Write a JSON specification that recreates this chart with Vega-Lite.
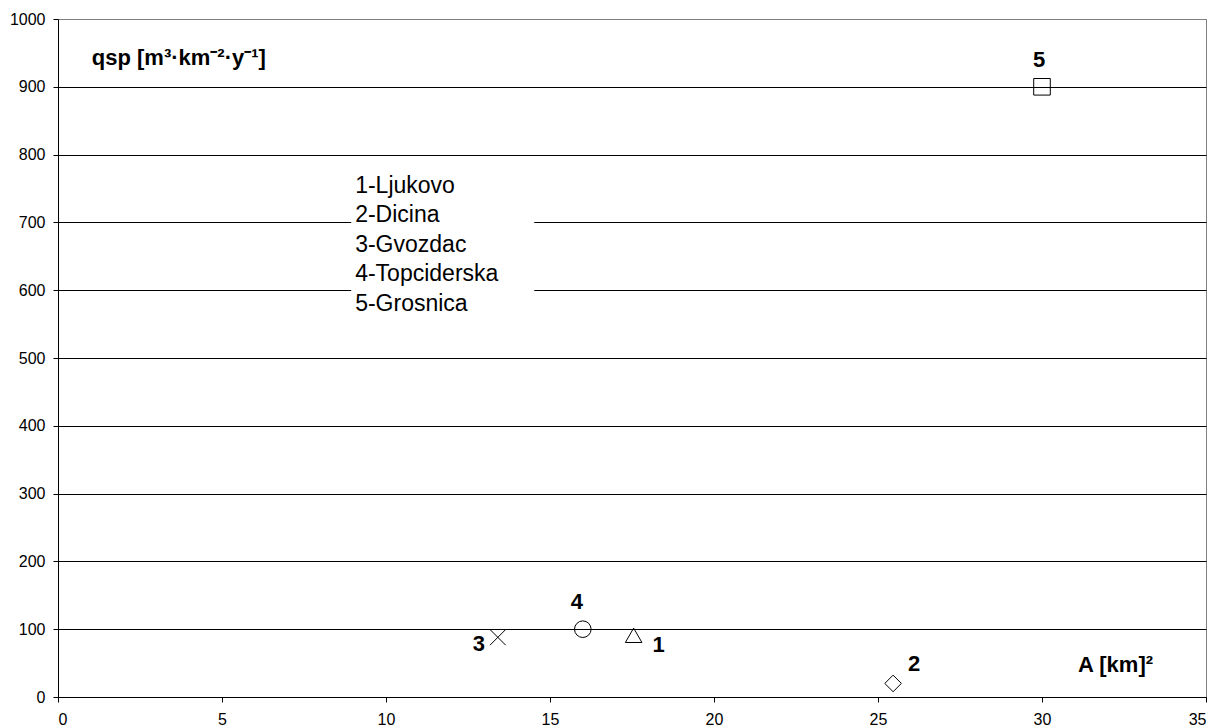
{
  "$schema": "https://vega.github.io/schema/vega-lite/v6.json",
  "width": 1148,
  "height": 678,
  "autosize": {"type": "none"},
  "padding": {"left": 58, "top": 19, "right": 9, "bottom": 31},
  "background": "white",
  "config": {
    "font": "Liberation Sans",
    "view": {"stroke": "#808080", "strokeWidth": 1},
    "axis": {
      "labelFontSize": 16, "labelColor": "black", "labelFont": "Liberation Sans",
      "domainColor": "black", "tickColor": "black", "title": null
    }
  },
  "datasets": {
    "pts": [
      {"id": "1", "station": "Ljukovo", "A": 17.55, "qsp": 91},
      {"id": "2", "station": "Dicina", "A": 25.46, "qsp": 20},
      {"id": "3", "station": "Gvozdac", "A": 13.41, "qsp": 88},
      {"id": "4", "station": "Topciderska", "A": 16.0, "qsp": 100},
      {"id": "5", "station": "Grosnica", "A": 30.0, "qsp": 900}
    ],
    "ann": [
      {"label": "qsp [m³·km⁻²·y⁻¹]", "kind": "title"}
    ]
  },
  "layer": [
    {
      "data": {"name": "pts"},
      "mark": {"type": "point", "filled": false, "stroke": "black", "strokeWidth": 1, "size": 275, "opacity": 1},
      "encoding": {
        "x": {
          "field": "A", "type": "quantitative",
          "scale": {"domain": [0, 35], "nice": false, "zero": true},
          "axis": {
            "title": null, "values": [0, 5, 10, 15, 20, 25, 30, 35],
            "grid": false, "tickSize": 5, "labelPadding": 9, "format": "d"
          }
        },
        "y": {
          "field": "qsp", "type": "quantitative",
          "scale": {"domain": [0, 1000], "nice": false},
          "axis": {
            "title": null, "values": [0, 100, 200, 300, 400, 500, 600, 700, 800, 900, 1000],
            "grid": true, "format": "d",
            "gridColor": {"condition": {"test": "datum.value == 1000", "value": "#808080"}, "value": "black"},
            "gridOpacity": 1, "gridWidth": 1, "tickSize": 5, "labelPadding": 8
          }
        },
        "shape": {
          "field": "station", "type": "nominal",
          "scale": {
            "domain": ["Ljukovo", "Dicina", "Gvozdac", "Topciderska", "Grosnica"],
            "range": ["triangle-up", "diamond", "M-0.95,-0.95L0.95,0.95M0.95,-0.95L-0.95,0.95", "circle", "square"]
          },
          "legend": null
        }
      }
    },
    {
      "data": {"name": "ann"},
      "mark": {"type": "rect", "fill": "white", "strokeWidth": 0},
      "encoding": {
        "x": {"datum": 8.94, "type": "quantitative"},
        "x2": {"datum": 14.52},
        "y": {"datum": 780, "type": "quantitative"},
        "y2": {"datum": 553}
      }
    },
    {
      "data": {"name": "pts"},
      "transform": [{"filter": "datum.id == '5'"}],
      "mark": {"type": "text", "fontWeight": "bold", "fontSize": 22, "dx": -3, "dy": -27, "color": "black"},
      "encoding": {"x": {"field": "A", "type": "quantitative"}, "y": {"field": "qsp", "type": "quantitative"}, "text": {"field": "id"}}
    },
    {
      "data": {"name": "pts"},
      "transform": [{"filter": "datum.id == '4'"}],
      "mark": {"type": "text", "fontWeight": "bold", "fontSize": 22, "dx": -6, "dy": -27, "color": "black"},
      "encoding": {"x": {"field": "A", "type": "quantitative"}, "y": {"field": "qsp", "type": "quantitative"}, "text": {"field": "id"}}
    },
    {
      "data": {"name": "pts"},
      "transform": [{"filter": "datum.id == '3'"}],
      "mark": {"type": "text", "fontWeight": "bold", "fontSize": 22, "dx": -19, "dy": 7, "color": "black"},
      "encoding": {"x": {"field": "A", "type": "quantitative"}, "y": {"field": "qsp", "type": "quantitative"}, "text": {"field": "id"}}
    },
    {
      "data": {"name": "pts"},
      "transform": [{"filter": "datum.id == '1'"}],
      "mark": {"type": "text", "fontWeight": "bold", "fontSize": 22, "dx": 25, "dy": 10, "color": "black"},
      "encoding": {"x": {"field": "A", "type": "quantitative"}, "y": {"field": "qsp", "type": "quantitative"}, "text": {"field": "id"}}
    },
    {
      "data": {"name": "pts"},
      "transform": [{"filter": "datum.id == '2'"}],
      "mark": {"type": "text", "fontWeight": "bold", "fontSize": 22, "dx": 21, "dy": -19, "color": "black"},
      "encoding": {"x": {"field": "A", "type": "quantitative"}, "y": {"field": "qsp", "type": "quantitative"}, "text": {"field": "id"}}
    },
    {
      "data": {"name": "ann"},
      "mark": {"type": "text", "fontWeight": "bold", "fontSize": 22, "align": "left", "baseline": "middle", "color": "black"},
      "encoding": {
        "x": {"datum": 1.03, "type": "quantitative"},
        "y": {"datum": 942, "type": "quantitative"},
        "text": {"field": "label"}
      }
    },
    {
      "data": {"name": "ann"},
      "mark": {"type": "text", "fontWeight": "bold", "fontSize": 22, "align": "left", "baseline": "middle", "color": "black"},
      "encoding": {
        "x": {"datum": 31.1, "type": "quantitative"},
        "y": {"datum": 47, "type": "quantitative"},
        "text": {"value": "A [km]²"}
      }
    },
    {
      "data": {"name": "ann"},
      "mark": {"type": "text", "fontSize": 23, "align": "left", "baseline": "middle", "lineHeight": 29.5, "color": "black"},
      "encoding": {
        "x": {"datum": 9.06, "type": "quantitative"},
        "y": {"datum": 754, "type": "quantitative"},
        "text": {"value": ["1-Ljukovo", "2-Dicina", "3-Gvozdac", "4-Topciderska", "5-Grosnica"]}
      }
    }
  ]
}
